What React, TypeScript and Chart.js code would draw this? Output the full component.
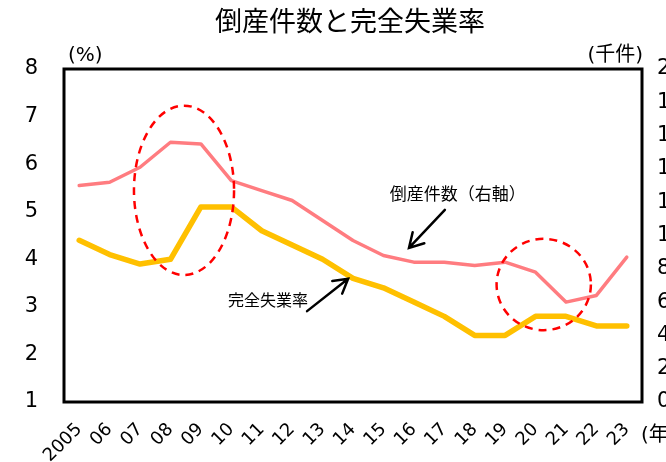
import React, { useEffect, useRef } from 'react';
import { Chart, registerables } from 'chart.js';

Chart.register(...registerables);

// ---- data ----
const years = ['2005', '06', '07', '08', '09', '10', '11', '12', '13', '14', '15', '16', '17', '18', '19', '20', '21', '22', '23'];
// 完全失業率 (%) – left axis
const unemploymentRate = [4.4, 4.1, 3.9, 4.0, 5.1, 5.1, 4.6, 4.3, 4.0, 3.6, 3.4, 3.1, 2.8, 2.4, 2.4, 2.8, 2.8, 2.6, 2.6];
// 倒産件数 (千件) – right axis
const bankruptcies = [13.0, 13.2, 14.1, 15.6, 15.5, 13.3, 12.7, 12.1, 10.9, 9.7, 8.8, 8.4, 8.4, 8.2, 8.4, 7.8, 6.0, 6.4, 8.7];

const leftTicks = { min: 1, max: 8, step: 1 };
const rightTicks = { min: 0, max: 20, step: 2 };

const titleText = '倒産件数と完全失業率';
const leftUnit = '(%)';
const rightUnit = '(千件)';
const xUnit = '(年)';

// highlight ellipses, in data units (category index / left-axis value)
const circleRegions = [
  { fromIndex: 1.8, toIndex: 5.09, fromValue: 3.67, toValue: 7.23 },
  { fromIndex: 13.72, toIndex: 16.82, fromValue: 2.51, toValue: 4.43 },
];

// callouts: label + arrow, in data units (category index / left-axis value)
const callouts = [
  { text: '倒産件数（右軸）', textIndex: 10.21, textValue: 5.39, tailIndex: 12.02, tailValue: 5.04, headIndex: 10.84, headValue: 4.24 },
  { text: '完全失業率', textIndex: 4.89, textValue: 3.14, tailIndex: 7.49, tailValue: 2.91, headIndex: 8.84, headValue: 3.59 },
];
const calloutFontSizes = [17, 16];

const CJK = '"Noto Sans CJK JP", "Noto Sans", sans-serif';
const NUM = '"DejaVu Sans", "Noto Sans CJK JP", sans-serif';

const overlayPlugin = {
  id: 'overlay',
  afterDatasetsDraw(chart: any) {
    const { ctx, chartArea: a, scales } = chart;
    const xs = scales.x;
    const ys = scales.yL;
    ctx.save();

    // plot frame
    ctx.strokeStyle = '#000';
    ctx.lineWidth = 3;
    ctx.strokeRect(a.left, a.top, a.right - a.left, a.bottom - a.top);

    // dashed ellipses
    ctx.strokeStyle = '#FF0000';
    ctx.lineWidth = 2.5;
    ctx.setLineDash([8, 6]);
    circleRegions.forEach((r) => {
      const x1 = xs.getPixelForValue(r.fromIndex);
      const x2 = xs.getPixelForValue(r.toIndex);
      const y1 = ys.getPixelForValue(r.toValue);
      const y2 = ys.getPixelForValue(r.fromValue);
      ctx.beginPath();
      ctx.ellipse((x1 + x2) / 2, (y1 + y2) / 2, Math.abs(x2 - x1) / 2, Math.abs(y2 - y1) / 2, 0, 0, Math.PI * 2);
      ctx.stroke();
    });
    ctx.setLineDash([]);

    // callouts
    callouts.forEach((c, i) => {
      const tx = xs.getPixelForValue(c.tailIndex);
      const ty = ys.getPixelForValue(c.tailValue);
      const hx = xs.getPixelForValue(c.headIndex);
      const hy = ys.getPixelForValue(c.headValue);
      ctx.strokeStyle = '#000';
      ctx.lineWidth = 2.5;
      ctx.lineCap = 'round';
      ctx.beginPath();
      ctx.moveTo(tx, ty);
      ctx.lineTo(hx, hy);
      const ang = Math.atan2(ty - hy, tx - hx);
      const len = 16;
      const spread = Math.PI / 6;
      ctx.moveTo(hx + len * Math.cos(ang - spread), hy + len * Math.sin(ang - spread));
      ctx.lineTo(hx, hy);
      ctx.lineTo(hx + len * Math.cos(ang + spread), hy + len * Math.sin(ang + spread));
      ctx.stroke();

      ctx.fillStyle = '#000';
      ctx.font = `${calloutFontSizes[i]}px ${CJK}`;
      ctx.textAlign = 'left';
      ctx.textBaseline = 'middle';
      ctx.fillText(c.text, xs.getPixelForValue(c.textIndex), ys.getPixelForValue(c.textValue));
    });

    // unit labels
    ctx.fillStyle = '#000';
    ctx.font = `20px ${NUM}`;
    ctx.textBaseline = 'middle';
    ctx.textAlign = 'left';
    ctx.fillText(leftUnit, a.left + 4, a.top - 13);
    ctx.textAlign = 'right';
    ctx.fillText(rightUnit, a.right + 1, a.top - 13);
    ctx.textAlign = 'left';
    ctx.fillText(xUnit, a.right - 1, a.bottom + 34);

    ctx.restore();
  },
};

export default function App() {
  const canvasRef = useRef<HTMLCanvasElement | null>(null);

  useEffect(() => {
    const canvas = canvasRef.current;
    if (!canvas) return;
    const chart = new Chart(canvas, {
      type: 'line',
      data: {
        labels: years,
        datasets: [
          {
            label: '完全失業率',
            data: unemploymentRate,
            yAxisID: 'yL',
            borderColor: '#FFC000',
            backgroundColor: '#FFC000',
            borderWidth: 5.5,
            pointRadius: 0,
            tension: 0,
            borderCapStyle: 'round',
            borderJoinStyle: 'round',
          },
          {
            label: '倒産件数（右軸）',
            data: bankruptcies,
            yAxisID: 'yR',
            borderColor: '#FF7C80',
            backgroundColor: '#FF7C80',
            borderWidth: 3.5,
            pointRadius: 0,
            tension: 0,
            borderCapStyle: 'round',
            borderJoinStyle: 'round',
          },
        ],
      },
      options: {
        responsive: false,
        animation: false,
        devicePixelRatio: 1,
        layout: { padding: 0 },
        plugins: {
          legend: { display: false },
          tooltip: { enabled: false },
          title: {
            display: true,
            text: titleText,
            color: '#000',
            font: { family: CJK, size: 27, weight: 'normal' },
            padding: { top: 5, bottom: 31.6 },
          },
        },
        scales: {
          x: {
            type: 'category',
            offset: true,
            grid: { display: false, drawTicks: false },
            border: { display: false },
            afterFit: (s: any) => { s.height = 60; },
            ticks: {
              color: '#000',
              font: { family: NUM, size: 18 },
              minRotation: 45,
              maxRotation: 45,
              autoSkip: false,
              padding: 17,
            },
          },
          yL: {
            type: 'linear',
            position: 'left',
            min: leftTicks.min,
            max: leftTicks.max,
            grid: { display: false, drawTicks: false },
            border: { display: false },
            afterFit: (s: any) => { s.width = 64; },
            ticks: {
              stepSize: leftTicks.step,
              color: '#000',
              font: { family: NUM, size: 21 },
              padding: 26,
            },
          },
          yR: {
            type: 'linear',
            position: 'right',
            min: rightTicks.min,
            max: rightTicks.max,
            grid: { display: false, drawTicks: false },
            border: { display: false },
            afterFit: (s: any) => { s.width = 58; },
            ticks: {
              stepSize: rightTicks.step,
              color: '#000',
              font: { family: NUM, size: 21 },
              padding: 15,
            },
          },
        },
      },
      plugins: [overlayPlugin],
    });
    return () => chart.destroy();
  }, []);

  return (
    <div style={{ position: 'absolute', left: 0, top: 0, width: 666, height: 462, overflow: 'hidden', background: '#fff' }}>
      <canvas ref={canvasRef} width={700} height={462} style={{ width: 700, height: 462, display: 'block' }} />
    </div>
  );
}
